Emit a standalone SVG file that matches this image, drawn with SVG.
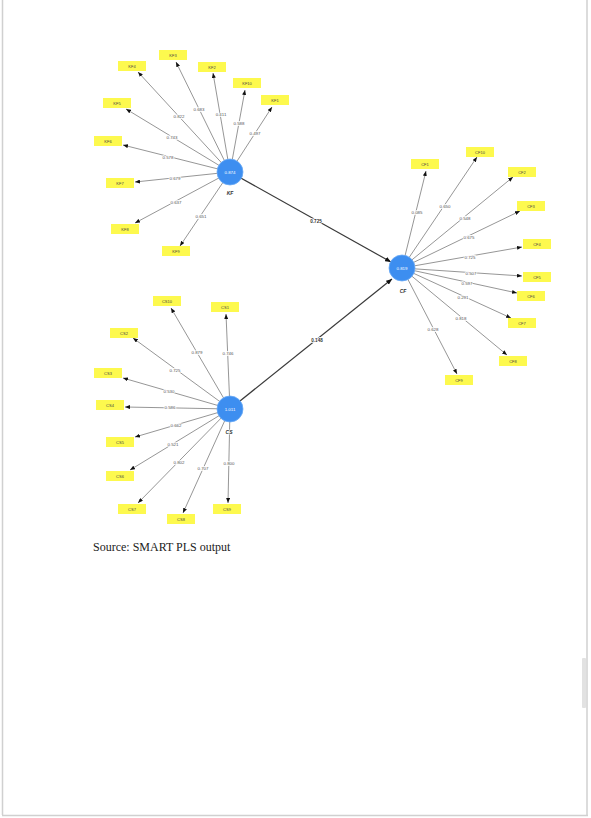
<svg xmlns="http://www.w3.org/2000/svg" width="591" height="818" viewBox="0 0 591 818">
<style>
.ind{stroke:#8a8a8a;stroke-width:0.9;fill:none;marker-end:url(#ah)}
.str{stroke:#3a3a3a;stroke-width:1.2;fill:none;marker-end:url(#ah2)}
.box{fill:#fdf94e}
.bt{font-family:"Liberation Sans",Arial,sans-serif;font-size:4px;fill:#444;text-anchor:middle;dominant-baseline:central}
.ld{font-family:"Liberation Sans",Arial,sans-serif;font-size:4.4px;fill:#555;text-anchor:middle;dominant-baseline:central;stroke:#fff;stroke-width:1.6px;paint-order:stroke}
.sl{font-family:"Liberation Sans",Arial,sans-serif;font-size:4.6px;font-weight:bold;fill:#333;text-anchor:middle;dominant-baseline:central;stroke:#fff;stroke-width:1.6px;paint-order:stroke}
.lv{fill:#3d8ef0;stroke:#6aaaf5;stroke-width:0.8}
.lvt{font-family:"Liberation Sans",Arial,sans-serif;font-size:4.4px;fill:#fff;text-anchor:middle;dominant-baseline:central}
.lvn{font-family:"Liberation Sans",Arial,sans-serif;font-size:5px;font-weight:bold;font-style:italic;fill:#333;text-anchor:middle;dominant-baseline:central;stroke:#fff;stroke-width:1.4px;paint-order:stroke}
</style>
<defs>
<marker id="ah" markerUnits="userSpaceOnUse" markerWidth="5" markerHeight="4" refX="5" refY="2" orient="auto"><path d="M0,0 L5,2 L0,4 z" fill="#111"/></marker>
<marker id="ah2" markerUnits="userSpaceOnUse" markerWidth="6" markerHeight="5" refX="6" refY="2.5" orient="auto"><path d="M0,0 L6,2.5 L0,5 z" fill="#111"/></marker>
</defs>
<rect x="0" y="0" width="591" height="818" fill="#fff"/>
<g id="page-frame">
<line x1="2.5" y1="0" x2="2.5" y2="815" stroke="#d0d0d0" stroke-width="1.5"/>
<line x1="587" y1="0" x2="587" y2="815" stroke="#d0d0d0" stroke-width="1.5"/>
<line x1="2" y1="815.5" x2="588" y2="815.5" stroke="#d0d0d0" stroke-width="1.5"/>
<rect x="582" y="658" width="4" height="50" rx="1" fill="#e2e2e2"/>
</g>
<g id="connectors">
<line class="ind" x1="230" y1="172" x2="272" y2="107"/>
<line class="ind" x1="230" y1="172" x2="213" y2="73"/>
<line class="ind" x1="230" y1="172" x2="176" y2="62"/>
<line class="ind" x1="230" y1="172" x2="138" y2="72"/>
<line class="ind" x1="230" y1="172" x2="126" y2="109"/>
<line class="ind" x1="230" y1="172" x2="123" y2="145"/>
<line class="ind" x1="230" y1="172" x2="135" y2="182"/>
<line class="ind" x1="230" y1="172" x2="135" y2="223"/>
<line class="ind" x1="230" y1="172" x2="180" y2="246"/>
<line class="ind" x1="230" y1="172" x2="245" y2="90"/>
<line class="ind" x1="402" y1="268" x2="426" y2="171"/>
<line class="ind" x1="402" y1="268" x2="477" y2="157"/>
<line class="ind" x1="402" y1="268" x2="513" y2="177"/>
<line class="ind" x1="402" y1="268" x2="520" y2="211"/>
<line class="ind" x1="402" y1="268" x2="522" y2="247"/>
<line class="ind" x1="402" y1="268" x2="522" y2="276"/>
<line class="ind" x1="402" y1="268" x2="517" y2="293"/>
<line class="ind" x1="402" y1="268" x2="511" y2="318"/>
<line class="ind" x1="402" y1="268" x2="507" y2="355"/>
<line class="ind" x1="402" y1="268" x2="457" y2="374"/>
<line class="ind" x1="230" y1="409" x2="226" y2="314"/>
<line class="ind" x1="230" y1="409" x2="133" y2="338"/>
<line class="ind" x1="230" y1="409" x2="123" y2="378"/>
<line class="ind" x1="230" y1="409" x2="125" y2="407"/>
<line class="ind" x1="230" y1="409" x2="135" y2="437"/>
<line class="ind" x1="230" y1="409" x2="130" y2="470"/>
<line class="ind" x1="230" y1="409" x2="138" y2="503"/>
<line class="ind" x1="230" y1="409" x2="183" y2="513"/>
<line class="ind" x1="230" y1="409" x2="228" y2="503"/>
<line class="ind" x1="230" y1="409" x2="171" y2="308"/>
<line class="str" x1="230" y1="172" x2="391" y2="262"/>
<line class="str" x1="230" y1="409" x2="392" y2="279"/>
<text class="ld" x="255" y="133">0.497</text>
<text class="ld" x="221" y="114">0.411</text>
<text class="ld" x="199" y="109">0.683</text>
<text class="ld" x="179" y="116">0.822</text>
<text class="ld" x="172" y="137">0.743</text>
<text class="ld" x="168" y="157">0.578</text>
<text class="ld" x="175" y="178">0.679</text>
<text class="ld" x="176" y="202">0.637</text>
<text class="ld" x="201" y="216">0.651</text>
<text class="ld" x="239" y="123">0.588</text>
<text class="ld" x="417" y="212">0.085</text>
<text class="ld" x="445" y="206">0.650</text>
<text class="ld" x="465" y="218">0.548</text>
<text class="ld" x="469" y="237">0.675</text>
<text class="ld" x="470" y="257">0.725</text>
<text class="ld" x="471" y="273">0.507</text>
<text class="ld" x="467" y="283">0.597</text>
<text class="ld" x="463" y="297">0.291</text>
<text class="ld" x="461" y="318">0.818</text>
<text class="ld" x="433" y="329">0.628</text>
<text class="ld" x="228" y="353">0.746</text>
<text class="ld" x="175" y="370">0.725</text>
<text class="ld" x="169" y="391">0.530</text>
<text class="ld" x="170" y="407">0.586</text>
<text class="ld" x="176" y="425">0.662</text>
<text class="ld" x="173" y="444">0.521</text>
<text class="ld" x="179" y="462">0.802</text>
<text class="ld" x="203" y="468">0.707</text>
<text class="ld" x="229" y="463">0.800</text>
<text class="ld" x="197" y="352">0.879</text>
<text class="sl" x="316" y="221">0.725</text>
<text class="sl" x="317" y="340">0.148</text>
</g>
<g id="KF">
<circle class="lv" cx="230" cy="172" r="13"/>
<text class="lvt" x="230" y="172">0.874</text>
<text class="lvn" x="230" y="193">KF</text>
</g>
<g id="CF">
<circle class="lv" cx="402" cy="268" r="13"/>
<text class="lvt" x="402" y="268">0.819</text>
<text class="lvn" x="403" y="291">CF</text>
</g>
<g id="CS">
<circle class="lv" cx="230" cy="409" r="13"/>
<text class="lvt" x="230" y="409">1.011</text>
<text class="lvn" x="229" y="432">CS</text>
</g>
<g id="KF1"><rect class="box" x="261" y="95" width="28" height="10"/><text class="bt" x="275" y="100">KF1</text></g>
<g id="KF2"><rect class="box" x="198" y="62" width="28" height="10"/><text class="bt" x="212" y="67">KF2</text></g>
<g id="KF3"><rect class="box" x="159" y="50" width="28" height="10"/><text class="bt" x="173" y="55">KF3</text></g>
<g id="KF4"><rect class="box" x="118" y="61" width="28" height="10"/><text class="bt" x="132" y="66">KF4</text></g>
<g id="KF5"><rect class="box" x="103" y="98" width="28" height="10"/><text class="bt" x="117" y="103">KF5</text></g>
<g id="KF6"><rect class="box" x="94" y="136" width="28" height="10"/><text class="bt" x="108" y="141">KF6</text></g>
<g id="KF7"><rect class="box" x="106" y="178" width="28" height="10"/><text class="bt" x="120" y="183">KF7</text></g>
<g id="KF8"><rect class="box" x="111" y="224" width="28" height="10"/><text class="bt" x="125" y="229">KF8</text></g>
<g id="KF9"><rect class="box" x="162" y="246" width="28" height="10"/><text class="bt" x="176" y="251">KF9</text></g>
<g id="KF10"><rect class="box" x="233" y="78" width="28" height="10"/><text class="bt" x="247" y="83">KF10</text></g>
<g id="CF1"><rect class="box" x="411" y="159" width="28" height="10"/><text class="bt" x="425" y="164">CF1</text></g>
<g id="CF10"><rect class="box" x="466" y="147" width="28" height="10"/><text class="bt" x="480" y="152">CF10</text></g>
<g id="CF2"><rect class="box" x="508" y="167" width="28" height="10"/><text class="bt" x="522" y="172">CF2</text></g>
<g id="CF3"><rect class="box" x="517" y="201" width="28" height="10"/><text class="bt" x="531" y="206">CF3</text></g>
<g id="CF4"><rect class="box" x="523" y="239" width="28" height="10"/><text class="bt" x="537" y="244">CF4</text></g>
<g id="CF5"><rect class="box" x="523" y="272" width="28" height="10"/><text class="bt" x="537" y="277">CF5</text></g>
<g id="CF6"><rect class="box" x="517" y="291" width="28" height="10"/><text class="bt" x="531" y="296">CF6</text></g>
<g id="CF7"><rect class="box" x="508" y="318" width="28" height="10"/><text class="bt" x="522" y="323">CF7</text></g>
<g id="CF8"><rect class="box" x="499" y="356" width="28" height="10"/><text class="bt" x="513" y="361">CF8</text></g>
<g id="CF9"><rect class="box" x="445" y="375" width="28" height="10"/><text class="bt" x="459" y="380">CF9</text></g>
<g id="CS1"><rect class="box" x="211" y="302" width="28" height="10"/><text class="bt" x="225" y="307">CS1</text></g>
<g id="CS2"><rect class="box" x="110" y="328" width="28" height="10"/><text class="bt" x="124" y="333">CS2</text></g>
<g id="CS3"><rect class="box" x="94" y="368" width="28" height="10"/><text class="bt" x="108" y="373">CS3</text></g>
<g id="CS4"><rect class="box" x="96" y="400" width="28" height="10"/><text class="bt" x="110" y="405">CS4</text></g>
<g id="CS5"><rect class="box" x="106" y="437" width="28" height="10"/><text class="bt" x="120" y="442">CS5</text></g>
<g id="CS6"><rect class="box" x="106" y="471" width="28" height="10"/><text class="bt" x="120" y="476">CS6</text></g>
<g id="CS7"><rect class="box" x="118" y="504" width="28" height="10"/><text class="bt" x="132" y="509">CS7</text></g>
<g id="CS8"><rect class="box" x="167" y="514" width="28" height="10"/><text class="bt" x="181" y="519">CS8</text></g>
<g id="CS9"><rect class="box" x="213" y="504" width="28" height="10"/><text class="bt" x="227" y="509">CS9</text></g>
<g id="CS10"><rect class="box" x="153" y="296" width="28" height="10"/><text class="bt" x="167" y="301">CS10</text></g>
<text x="93" y="551" font-family="'Liberation Serif','Times New Roman',serif" font-size="12" fill="#222">Source: SMART PLS output</text>
</svg>
